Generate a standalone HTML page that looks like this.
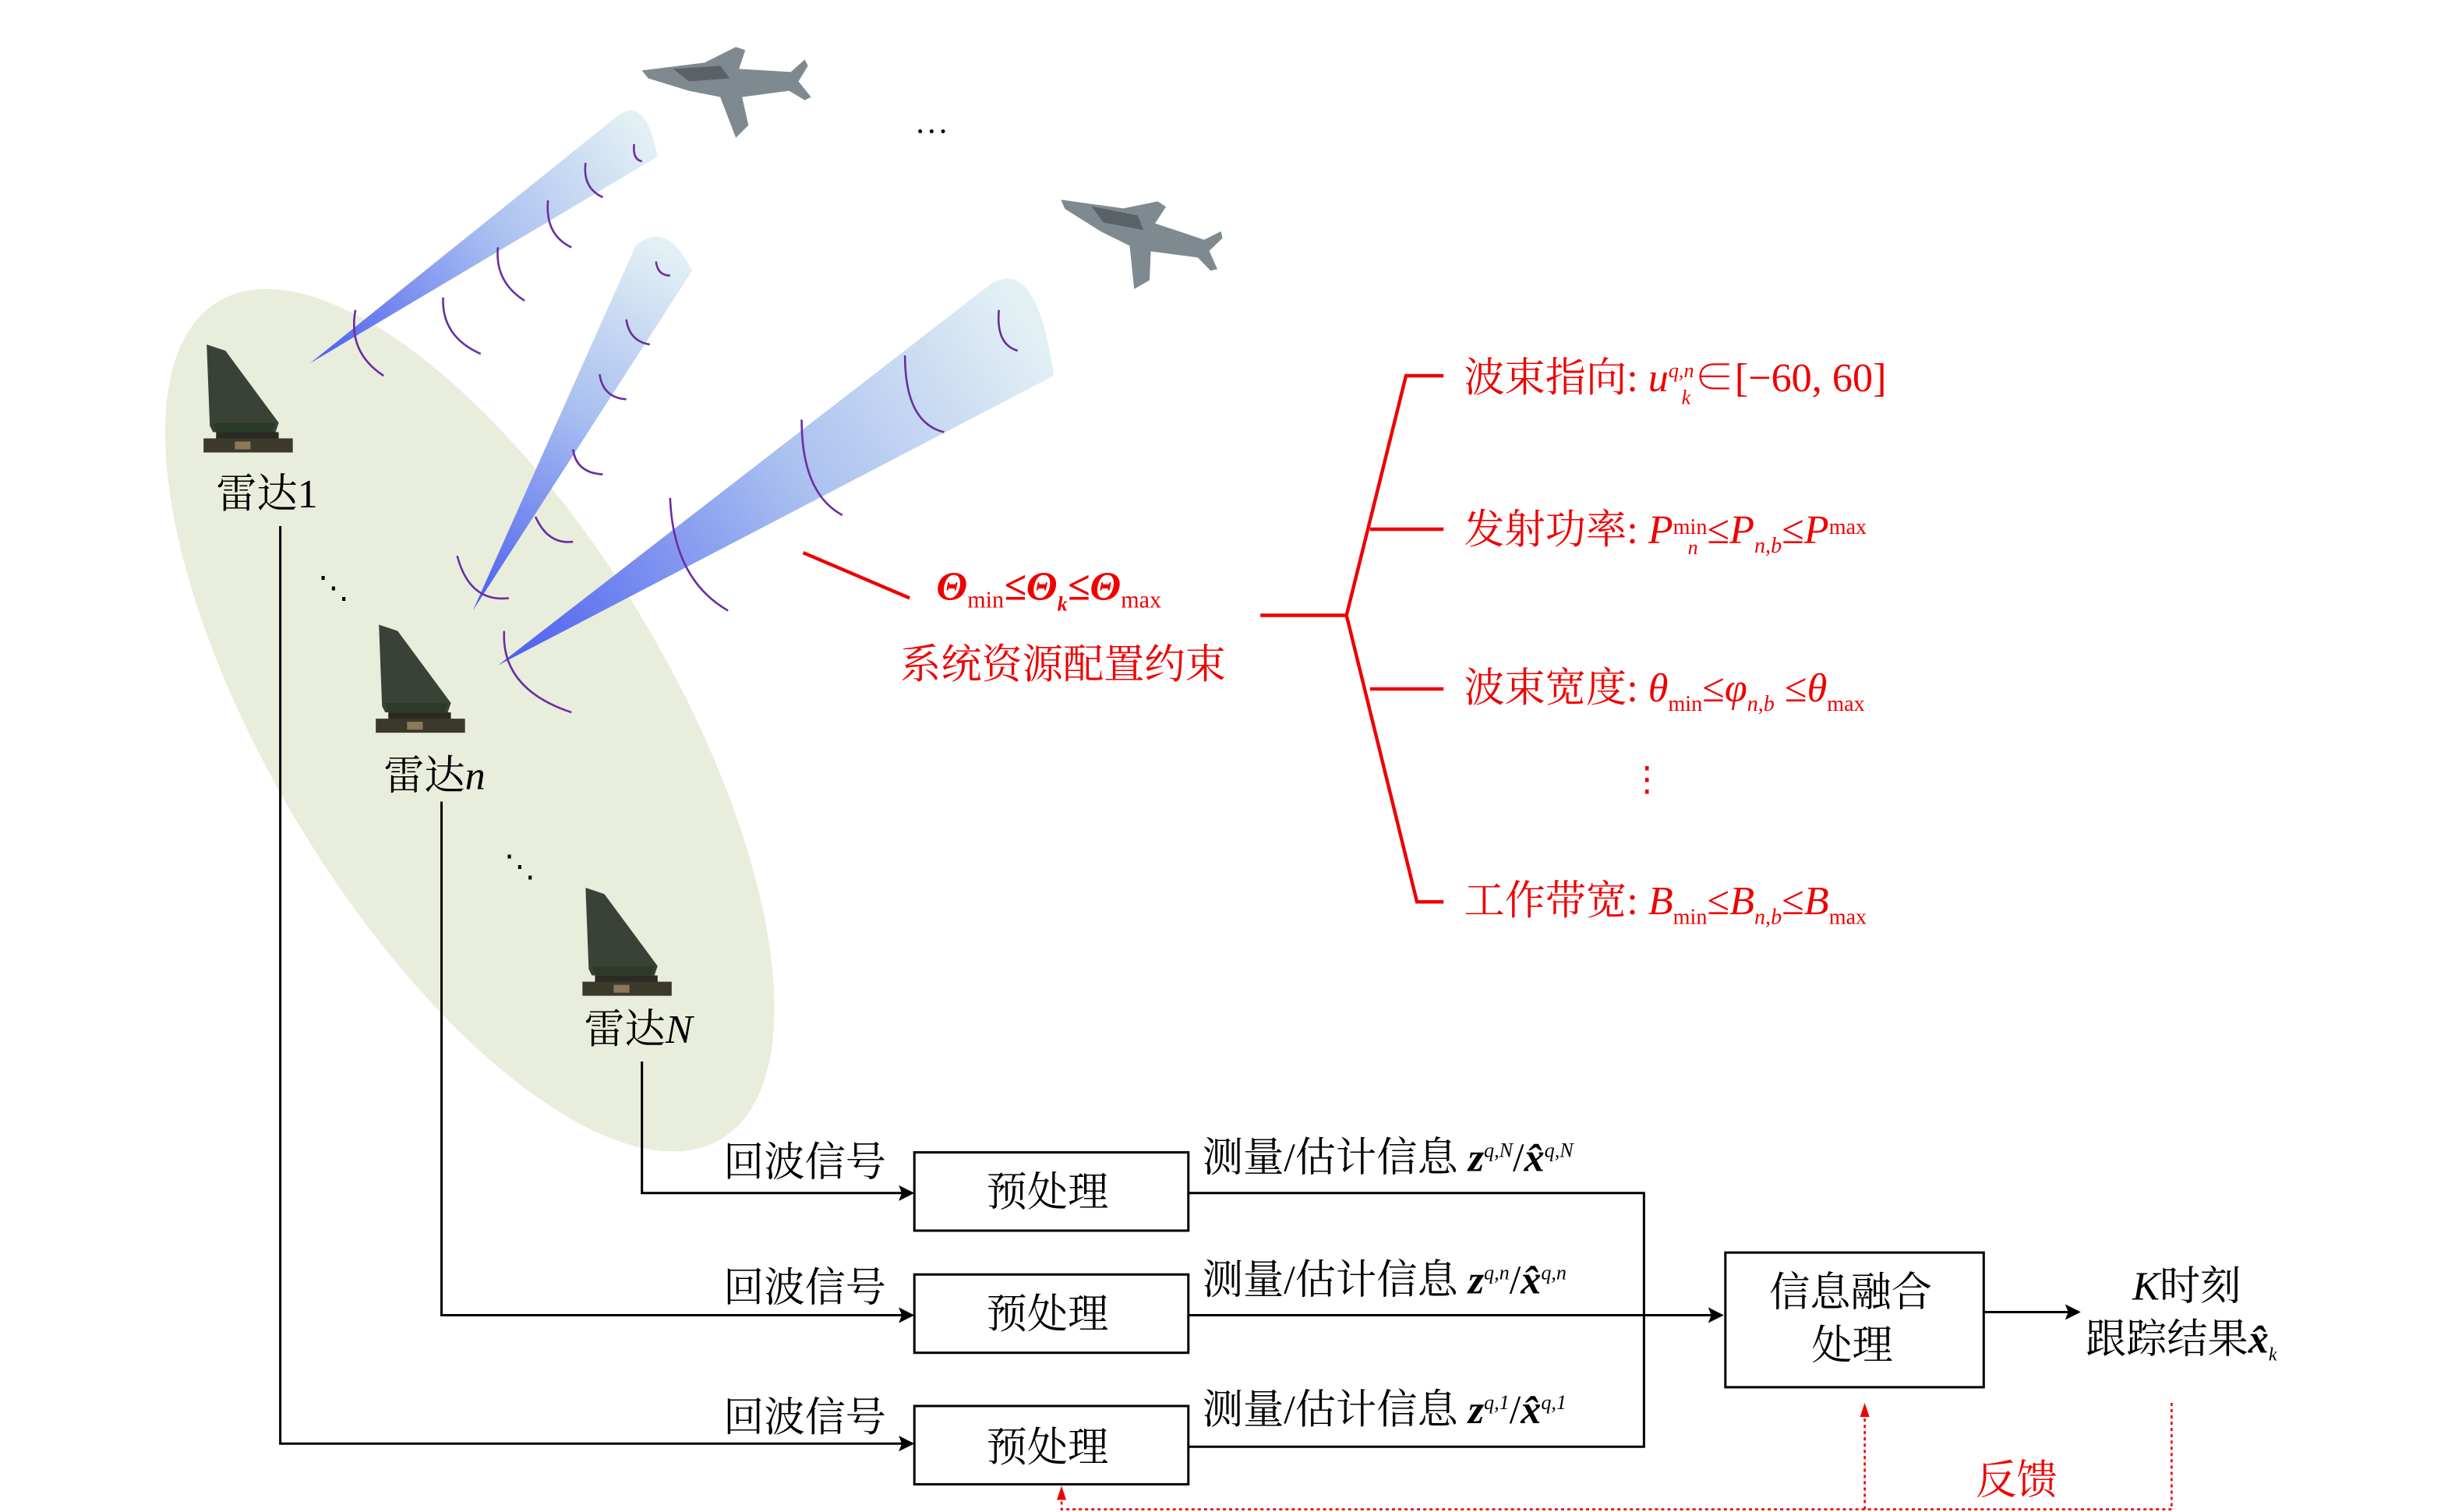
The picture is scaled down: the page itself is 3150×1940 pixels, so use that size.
<!DOCTYPE html>
<html><head><meta charset="utf-8"><style>
html,body{margin:0;padding:0;background:#fff;}
svg{display:block;}
text{font-family:"Liberation Serif","Noto Serif CJK SC","Noto Sans CJK SC",serif;}
</style></head><body>
<svg width="3150" height="1940" viewBox="0 0 1568 965.7" xmlns="http://www.w3.org/2000/svg">
<defs>
<linearGradient id="b1" gradientUnits="userSpaceOnUse" x1="198" y1="232" x2="410" y2="85"><stop offset="0" stop-color="#4a5cf0"/><stop offset="0.55" stop-color="#a9bff0"/><stop offset="1" stop-color="#e2f0f4"/></linearGradient>
<linearGradient id="b2" gradientUnits="userSpaceOnUse" x1="302" y1="390" x2="425" y2="160"><stop offset="0" stop-color="#4a5cf0"/><stop offset="0.55" stop-color="#a9bff0"/><stop offset="1" stop-color="#e2f0f4"/></linearGradient>
<linearGradient id="b3" gradientUnits="userSpaceOnUse" x1="318" y1="425" x2="655" y2="205"><stop offset="0" stop-color="#4a5cf0"/><stop offset="0.55" stop-color="#a9bff0"/><stop offset="1" stop-color="#e2f0f4"/></linearGradient>
<g id="radar">
<polygon points="2,0 14,4 48,50 46,56 6,56 4,52" fill="#3a4238"/>
<polygon points="6,50 46,50 44,56 8,56" fill="#2c3a2a"/>
<rect x="8" y="56" width="40" height="5" fill="#2a2a22"/>
<rect x="0" y="60" width="57" height="9" fill="#3b3a2a"/>
<rect x="20" y="62" width="10" height="5" fill="#8a7a5a"/>
</g>
<g id="jet">
<polygon points="0,15 40,10 60,0 66,2 62,14 95,16 104,8 106,12 100,22 108,32 104,34 94,28 64,32 68,50 60,58 50,32 30,28 4,20" fill="#7f8a90"/>
<polygon points="20,14 50,12 56,20 30,22" fill="#5a6268"/>
</g>
</defs>
<ellipse cx="300" cy="460" rx="128" ry="312" transform="rotate(-31 300 460)" fill="#e9eedc"/>
<path d="M198,232 L392,76 Q412,58 420,100 Z" fill="url(#b1)"/>
<path d="M302,390 L406,157 Q426,140 442,173 Z" fill="url(#b2)"/>
<path d="M318,425 L632,182 Q662,162 673,240 Z" fill="url(#b3)"/>
<g fill="none" stroke="#6a2fa0" stroke-width="1.3">
<path d="M405,92 Q404,102 410,103"/><path d="M374,104 Q372,120 385,126"/><path d="M350,128 Q348,150 365,158"/><path d="M318,158 Q316,180 335,192"/><path d="M283,190 Q282,215 307,226"/><path d="M227,198 Q222,225 245,240"/>
<path d="M419,167 Q420,176 428,176"/><path d="M400,204 Q402,218 415,220"/><path d="M383,239 Q385,254 400,255"/><path d="M366,287 Q368,302 385,303"/><path d="M342,330 Q350,348 366,346"/><path d="M292,355 Q300,385 325,382"/>
<path d="M638,198 Q636,220 650,224"/><path d="M578,227 Q578,270 603,276"/><path d="M512,268 Q512,315 538,329"/><path d="M428,318 Q430,370 465,390"/><path d="M322,403 Q320,440 365,455"/>
</g>
<use href="#jet" x="410" y="30"/>
<use href="#jet" x="672" y="125" transform="rotate(15 722 155)"/>
<text x="584" y="92" font-size="22">⋯</text>
<use href="#radar" x="130" y="220"/>
<use href="#radar" x="240" y="399"/>
<use href="#radar" x="372" y="567"/>
<text x="138" y="324" font-size="26">雷达1</text>
<text x="245" y="504" font-size="26">雷达<tspan font-style="italic">n</tspan></text>
<text x="373" y="666" font-size="26">雷达<tspan font-style="italic">N</tspan></text>
<text x="203" y="382" font-size="20">⋱</text>
<text x="322" y="560" font-size="20">⋱</text>
<g stroke="#e00" stroke-width="2.2" fill="none">
<line x1="513" y1="353" x2="581" y2="382"/>
<polyline points="805,393 860,393"/>
<polyline points="922,240 898,240 860,393 905,576 922,576"/>
<line x1="875" y1="338" x2="922" y2="338"/><line x1="875" y1="440" x2="922" y2="440"/>
</g>
<g fill="#e00">
<text x="598" y="383" font-size="26" font-weight="bold" font-style="italic">Θ<tspan font-size="15" font-weight="normal" font-style="normal" dy="5">min</tspan><tspan dy="-5">≤</tspan>Θ<tspan font-size="13" dy="7">k</tspan><tspan dy="-7">≤</tspan>Θ<tspan font-size="15" font-weight="normal" font-style="normal" dy="5">max</tspan></text>
<text x="575" y="433" font-size="26">系统资源配置约束</text>
<text x="935" y="250" font-size="26">波束指向: <tspan font-style="italic">u</tspan><tspan font-size="13" font-style="italic" dy="-9">q,n</tspan><tspan dy="9">∈[−60, 60]</tspan></text>
<text x="1074" y="258" font-size="13" font-style="italic">k</text>
<text x="935" y="347" font-size="26">发射功率: <tspan font-style="italic">P</tspan><tspan font-size="14" dy="-6">min</tspan><tspan dy="6">≤</tspan><tspan font-style="italic">P</tspan><tspan font-size="14" font-style="italic" dy="6">n,b</tspan><tspan dy="-6">≤</tspan><tspan font-style="italic">P</tspan><tspan font-size="14" dy="-6">max</tspan></text>
<text x="1078" y="354" font-size="13" font-style="italic">n</text>
<text x="935" y="448" font-size="26">波束宽度: <tspan font-style="italic">θ</tspan><tspan font-size="14" dy="6">min</tspan><tspan dy="-6">≤</tspan><tspan font-style="italic">φ</tspan><tspan font-size="14" font-style="italic" dy="6">n,b</tspan><tspan dy="-6"> ≤</tspan><tspan font-style="italic">θ</tspan><tspan font-size="14" dy="6">max</tspan></text>
<text x="1041" y="505" font-size="22">⋮</text>
<text x="935" y="584" font-size="26">工作带宽: <tspan font-style="italic">B</tspan><tspan font-size="14" dy="6">min</tspan><tspan dy="-6">≤</tspan><tspan font-style="italic">B</tspan><tspan font-size="14" font-style="italic" dy="6">n,b</tspan><tspan dy="-6">≤</tspan><tspan font-style="italic">B</tspan><tspan font-size="14" dy="6">max</tspan></text>
</g>
<g stroke="#000" stroke-width="1.5" fill="none">
<polyline points="179,336 179,922 578,922"/>
<polyline points="282,512 282,840 578,840"/>
<polyline points="410,678 410,762 578,762"/>
<rect x="584" y="736" width="175" height="50"/>
<rect x="584" y="814" width="175" height="50"/>
<rect x="584" y="898" width="175" height="50"/>
<rect x="1102" y="800" width="165" height="86"/>
<polyline points="759,762 1050,762 1050,924 759,924"/>
<line x1="759" y1="840" x2="1094" y2="840"/>
<line x1="1267" y1="838" x2="1322" y2="838"/>
</g>
<g fill="#000">
<polygon points="584,762 574,757 576,762 574,767"/>
<polygon points="584,840 574,835 576,840 574,845"/>
<polygon points="584,922 574,917 576,922 574,927"/>
<polygon points="1101,840 1091,835 1093,840 1091,845"/>
<polygon points="1329,838 1319,833 1321,838 1319,843"/>
</g>
<g font-size="26" fill="#000">
<text x="462" y="751">回波信号</text><text x="462" y="831">回波信号</text><text x="462" y="914">回波信号</text>
<text x="630" y="770">预处理</text><text x="630" y="848">预处理</text><text x="630" y="933">预处理</text>
<text x="768" y="748">测量/估计信息 <tspan font-style="italic" font-weight="bold">z</tspan><tspan font-size="13" font-style="italic" dy="-9">q,N</tspan><tspan dy="9">/</tspan><tspan font-style="italic" font-weight="bold">x̂</tspan><tspan font-size="13" font-style="italic" dy="-9">q,N</tspan></text>
<text x="768" y="826">测量/估计信息 <tspan font-style="italic" font-weight="bold">z</tspan><tspan font-size="13" font-style="italic" dy="-9">q,n</tspan><tspan dy="9">/</tspan><tspan font-style="italic" font-weight="bold">x̂</tspan><tspan font-size="13" font-style="italic" dy="-9">q,n</tspan></text>
<text x="768" y="909">测量/估计信息 <tspan font-style="italic" font-weight="bold">z</tspan><tspan font-size="13" font-style="italic" dy="-9">q,1</tspan><tspan dy="9">/</tspan><tspan font-style="italic" font-weight="bold">x̂</tspan><tspan font-size="13" font-style="italic" dy="-9">q,1</tspan></text>
<text x="1130" y="834">信息融合</text><text x="1157" y="868">处理</text>
<text x="1362" y="830"><tspan font-style="italic">K</tspan>时刻</text>
<text x="1332" y="864">跟踪结果<tspan font-style="italic" font-weight="bold">x̂</tspan><tspan font-size="12" font-style="italic" dy="5">k</tspan></text>
</g>
<g stroke="#e00" stroke-width="1.3" fill="none" stroke-dasharray="2,2">
<polyline points="1387,896 1387,964 678,964 678,956"/>
<line x1="1191" y1="964" x2="1191" y2="904"/>
</g>
<g fill="#e00">
<polygon points="678,949 675,958 681,958"/>
<polygon points="1191,896 1188,905 1194,905"/>
<text x="1262" y="954" font-size="26">反馈</text>
</g>
</svg>
</body></html>
